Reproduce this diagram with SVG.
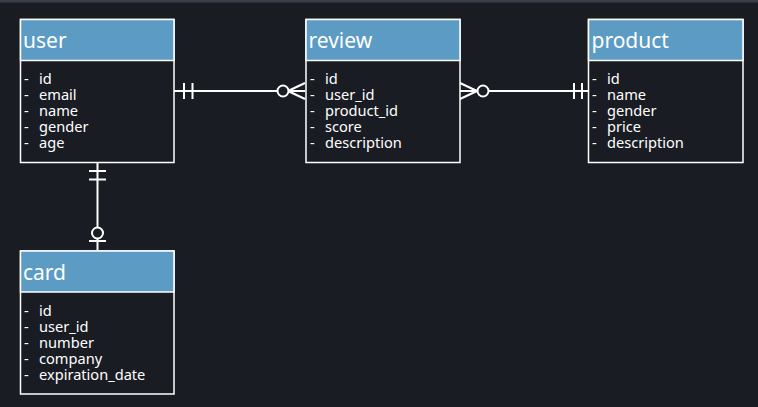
<svg xmlns="http://www.w3.org/2000/svg" width="758" height="407" viewBox="0 0 758 407">
<style>
.box{fill:#1a1c23;stroke:#ffffff;stroke-width:1.5}
.hdr{fill:#5b9bc4;stroke:#ffffff;stroke-width:1.5}
.title{font-family:"Noto Sans","DejaVu Sans",sans-serif;font-size:21px;fill:#ffffff}
.attr{font-family:"Noto Sans","DejaVu Sans",sans-serif;font-size:14.6px;fill:#ffffff}
.ln{stroke:#ffffff;stroke-width:2;fill:none}
.circ{stroke:#ffffff;stroke-width:2;fill:#1a1c23}
</style>
<rect x="0" y="0" width="758" height="407" fill="#1a1c23"/>
<rect x="0" y="0" width="758" height="2.5" fill="#3b3e4a"/>
<g id="connectors">
  <line class="ln" x1="174" y1="91" x2="305" y2="91"/>
  <line class="ln" x1="184" y1="83" x2="184" y2="99"/>
  <line class="ln" x1="192.5" y1="83" x2="192.5" y2="99"/>
  <line class="ln" x1="288" y1="91" x2="305" y2="83"/>
  <line class="ln" x1="288" y1="91" x2="305" y2="99"/>
  <circle class="circ" cx="283" cy="91" r="5.5"/>
  <line class="ln" x1="460" y1="91" x2="588" y2="91"/>
  <line class="ln" x1="460" y1="83" x2="477" y2="91"/>
  <line class="ln" x1="460" y1="99" x2="477" y2="91"/>
  <circle class="circ" cx="483" cy="91" r="5.5"/>
  <line class="ln" x1="574" y1="83" x2="574" y2="99"/>
  <line class="ln" x1="582" y1="83" x2="582" y2="99"/>
  <line class="ln" x1="97.5" y1="162" x2="97.5" y2="250"/>
  <line class="ln" x1="89" y1="171" x2="106" y2="171"/>
  <line class="ln" x1="89" y1="179.5" x2="106" y2="179.5"/>
  <circle class="circ" cx="97.5" cy="233" r="5.5"/>
  <line class="ln" x1="89" y1="241" x2="106" y2="241"/>
</g>
<g id="user">
  <rect class="box" x="20.5" y="19.5" width="153.5" height="143"/>
  <rect class="hdr" x="20.5" y="19.5" width="153.5" height="41"/>
  <text class="title" x="23" y="48">user</text>
  <text class="attr" x="24" y="84">-<tspan x="39">id</tspan></text>
  <text class="attr" x="24" y="100">-<tspan x="39">email</tspan></text>
  <text class="attr" x="24" y="116">-<tspan x="39">name</tspan></text>
  <text class="attr" x="24" y="132">-<tspan x="39">gender</tspan></text>
  <text class="attr" x="24" y="148">-<tspan x="39">age</tspan></text>
</g>
<g id="review">
  <rect class="box" x="306" y="19.5" width="154" height="143"/>
  <rect class="hdr" x="306" y="19.5" width="154" height="41"/>
  <text class="title" x="308.5" y="48">review</text>
  <text class="attr" x="310" y="84">-<tspan x="325">id</tspan></text>
  <text class="attr" x="310" y="100">-<tspan x="325">user_id</tspan></text>
  <text class="attr" x="310" y="116">-<tspan x="325">product_id</tspan></text>
  <text class="attr" x="310" y="132">-<tspan x="325">score</tspan></text>
  <text class="attr" x="310" y="148">-<tspan x="325">description</tspan></text>
</g>
<g id="product">
  <rect class="box" x="588.5" y="19.5" width="154.5" height="143"/>
  <rect class="hdr" x="588.5" y="19.5" width="154.5" height="41"/>
  <text class="title" x="591.5" y="48">product</text>
  <text class="attr" x="592" y="84">-<tspan x="607">id</tspan></text>
  <text class="attr" x="592" y="100">-<tspan x="607">name</tspan></text>
  <text class="attr" x="592" y="116">-<tspan x="607">gender</tspan></text>
  <text class="attr" x="592" y="132">-<tspan x="607">price</tspan></text>
  <text class="attr" x="592" y="148">-<tspan x="607">description</tspan></text>
</g>
<g id="card">
  <rect class="box" x="20.5" y="251" width="153.5" height="143"/>
  <rect class="hdr" x="20.5" y="251" width="153.5" height="41"/>
  <text class="title" x="23" y="279.5">card</text>
  <text class="attr" x="24" y="315.5">-<tspan x="39">id</tspan></text>
  <text class="attr" x="24" y="331.5">-<tspan x="39">user_id</tspan></text>
  <text class="attr" x="24" y="347.5">-<tspan x="39">number</tspan></text>
  <text class="attr" x="24" y="363.5">-<tspan x="39">company</tspan></text>
  <text class="attr" x="24" y="379.5">-<tspan x="39">expiration_date</tspan></text>
</g>
</svg>
